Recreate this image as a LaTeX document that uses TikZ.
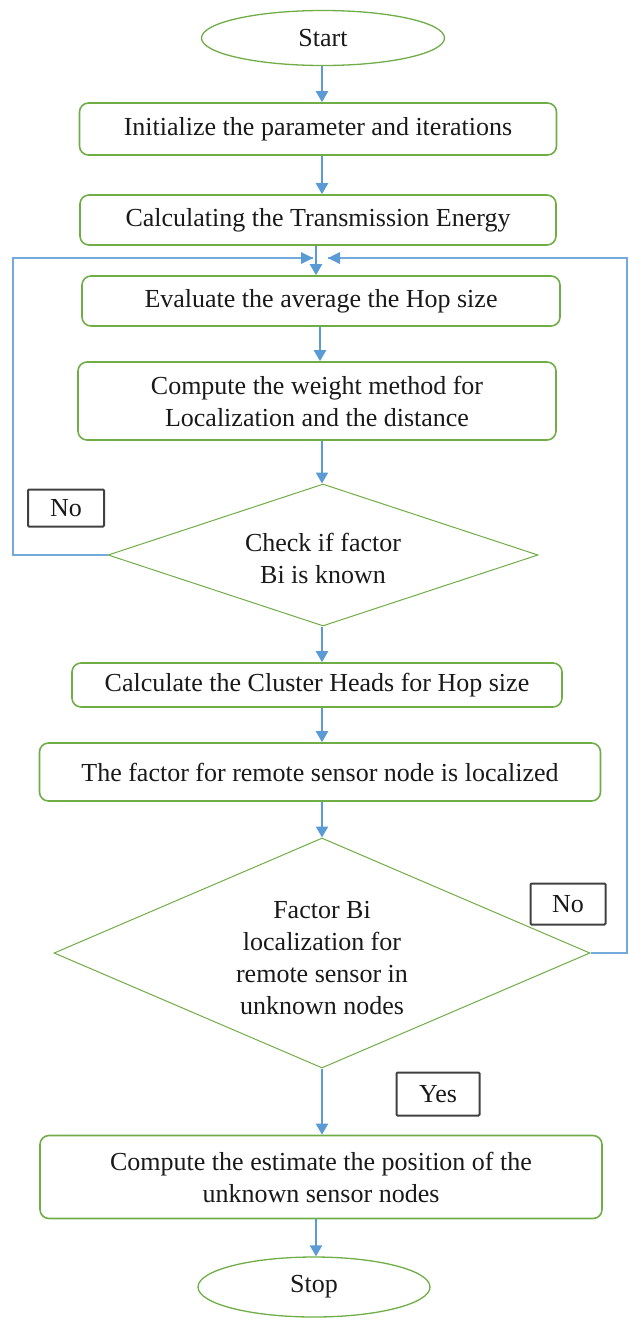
\documentclass[tikz,border=0pt]{standalone}
\usepackage{fontspec}
\setmainfont{Liberation Serif}
\usetikzlibrary{shapes.geometric,arrows.meta}
\definecolor{boxgreen}{RGB}{112,173,71}
\definecolor{flowblue}{RGB}{91,155,213}
\definecolor{labelgrey}{RGB}{64,64,64}
\begin{document}
\begin{tikzpicture}[x=1pt,y=-1pt,
  every node/.style={font=\fontsize{26}{32}\selectfont, text=black!90},
  terminal/.style={ellipse, draw=boxgreen, line width=1.3pt, inner sep=0pt},
  process/.style={rectangle, rounded corners=9pt, draw=boxgreen, line width=1.6pt, align=center, inner sep=0pt},
  decision/.style={diamond, draw=boxgreen, line width=1pt, inner sep=0pt},
  decisiontext/.style={align=center, inner sep=0pt},
  answer/.style={rectangle, rounded corners=1pt, draw=labelgrey, line width=2pt, inner sep=0pt},
  flow/.style={draw=flowblue, line width=2.2pt, -{Triangle[width=12pt,length=11pt]}},
  loop/.style={draw=flowblue!85, line width=1.6pt},
]
\useasboundingbox (0,0) rectangle (629,1320);

% main column
\node[terminal, minimum width=243pt, minimum height=55pt] (start) at (323,38) {Start};
\node[process, minimum width=477pt, minimum height=52pt] (init) at (318,129) {Initialize the parameter and iterations};
\node[process, minimum width=476pt, minimum height=50pt] (energy) at (318,220) {Calculating the Transmission Energy};
\node[process, minimum width=478pt, minimum height=50pt] (hop) at (321,301) {Evaluate the average the Hop size};
\node[process, minimum width=478pt, minimum height=78pt] (weight) at (317,401) {Compute the weight method for\\Localization and the distance};
\node[decision, minimum width=430pt, minimum height=142pt] (check) at (323,555) {};
\node[decisiontext] (checktext) at (323,558) {Check if factor\\Bi is known};
\node[process, minimum width=490pt, minimum height=44pt] (cluster) at (317,685) {Calculate the Cluster Heads for Hop size};
\node[process, minimum width=561pt, minimum height=58pt] (remote) at (320,772) {The factor for remote sensor node is localized};
\node[decision, minimum width=536pt, minimum height=230pt] (factor) at (322,953) {};
\node[decisiontext] (factortext) at (322,958) {Factor Bi\\localization for\\remote sensor in\\unknown nodes};
\node[process, minimum width=562pt, minimum height=83pt] (estimate) at (321,1177) {Compute the estimate the position of the\\unknown sensor nodes};
\node[terminal, minimum width=232pt, minimum height=60pt] (stop) at (314,1287) {Stop};

% branch labels
\node[answer, minimum width=76pt, minimum height=37pt] (no1) at (66,508) {No};
\node[answer, minimum width=75pt, minimum height=41pt] (no2) at (568,904) {No};
\node[answer, minimum width=83pt, minimum height=43pt] (yes) at (438,1094) {Yes};

% joining point above the hop-size box
\coordinate (jl) at (313,258);
\coordinate (jr) at (328,258);

% forward flow
\draw[flow] (start.south -| 322,0) -- (init.north -| 322,0);
\draw[flow] (init.south -| 322,0) -- (energy.north -| 322,0);
\draw[flow] (energy.south -| 316,0) -- (hop.north -| 316,0);
\draw[flow] (hop.south -| 320,0) -- (weight.north -| 320,0);
\draw[flow] (weight.south -| 322,0) -- (check.north -| 322,0);
\draw[flow] (check.south -| 322,0) -- (cluster.north -| 322,0);
\draw[flow] (cluster.south -| 322,0) -- (remote.north -| 322,0);
\draw[flow] (remote.south -| 322,0) -- (factor.north -| 322,0);
\draw[flow] (factor.south) -- (estimate.north -| factor.south);
\draw[flow] (estimate.south -| 316,0) -- (stop.north -| 316,0);

% feedback loops
\draw[loop] (check.west) -- (13,555) -- (13,258) -- (jl);
\draw[loop] (factor.east) -- (627,953) -- (627,258) -- (jr);
\fill[flowblue] (jl) -- ++(-12,-6) -- ++(0,12) -- cycle;
\fill[flowblue] (jr) -- ++(12,-6) -- ++(0,12) -- cycle;
\end{tikzpicture}
\end{document}
